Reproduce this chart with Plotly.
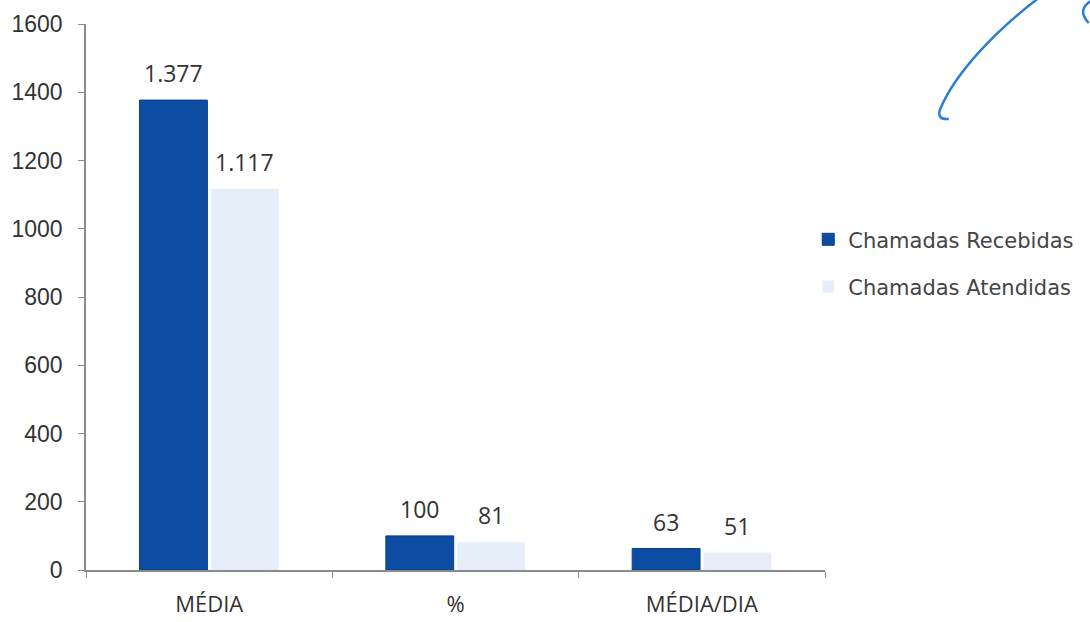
import plotly.graph_objects as go

categories = ["MÉDIA", "%", "MÉDIA/DIA"]
recebidas = [1377, 100, 63]
atendidas = [1117, 81, 51]
recebidas_labels = ["1.377", "100", "63"]
atendidas_labels = ["1.117", "81", "51"]
y_ticks = [0, 200, 400, 600, 800, 1000, 1200, 1400, 1600]

label_font = dict(family="Open Sans, Liberation Sans", size=23, color="#333333")

fig = go.Figure()
fig.add_trace(go.Bar(
    x=categories, y=recebidas, name="Chamadas Recebidas",
    marker=dict(color="#0c4da2", line=dict(color="#0a3f8a", width=1)),
    legendgroup="a",
))
fig.add_trace(go.Bar(
    x=categories, y=atendidas, name="Chamadas Atendidas",
    marker=dict(color="#e6eff9", line=dict(width=0)),
    legendgroup="b",
))

annotations = []
for c, v, t in zip(categories, recebidas, recebidas_labels):
    annotations.append(dict(x=c, y=v, text=t, xref="x", yref="y", showarrow=False,
                            xshift=-36, yshift=27, yanchor="middle", font=label_font))
for c, v, t in zip(categories, atendidas, atendidas_labels):
    annotations.append(dict(x=c, y=v, text=t, xref="x", yref="y", showarrow=False,
                            xshift=35, yshift=27, yanchor="middle", font=label_font))

# paper-coordinate helpers for the handwritten pen stroke
def px(x):
    return (x - 86) / 740
def py(y):
    return (570 - y) / 546

path = "M {} {}".format(px(1040), py(-2))
path += " C {} {}, {} {}, {} {}".format(px(995), py(32), px(955), py(75), px(941), py(110))
path += " Q {} {}, {} {}".format(px(938), py(120), px(950), py(119))

path2 = "M {} {}".format(px(1092), py(1))
path2 += " Q {} {}, {} {}".format(px(1078), py(10), px(1090), py(23))

fig.update_layout(
    width=1090, height=622,
    margin=dict(l=86, r=264, t=24, b=52),
    paper_bgcolor="white", plot_bgcolor="white",
    barmode="group", bargap=0.42, bargroupgap=0.05,
    showlegend=True,
    legend=dict(x=0.976, xanchor="left", y=0.562, yanchor="middle",
                font=dict(family="DejaVu Sans", size=21, color="#444444"),
                tracegroupgap=17, itemwidth=30, traceorder="grouped"),
    xaxis=dict(showline=True, linecolor="#8a8a8a", linewidth=1.5,
               ticks="outside", tickson="boundaries", ticklen=6, tickcolor="#8a8a8a",
               tickfont=dict(family="Open Sans, Liberation Sans", size=22, color="#333333"),
               ticklabelstandoff=14, showgrid=False, automargin=False),
    yaxis=dict(range=[0, 1600], tickvals=y_ticks, showline=True, linecolor="#8a8a8a",
               linewidth=1.5, ticks="outside", ticklen=6, tickcolor="#8a8a8a",
               tickfont=dict(family="Liberation Sans, Arial", size=23, color="#333333"),
               ticklabelstandoff=11, showgrid=False, zeroline=False, automargin=False),
    annotations=annotations,
    shapes=[dict(type="path", xref="paper", yref="paper", path=path,
                 line=dict(color="#2a7fd0", width=2.5)),
            dict(type="path", xref="paper", yref="paper", path=path2,
                 line=dict(color="#2a7fd0", width=2.5))],
)
fig.write_html("out.html")
